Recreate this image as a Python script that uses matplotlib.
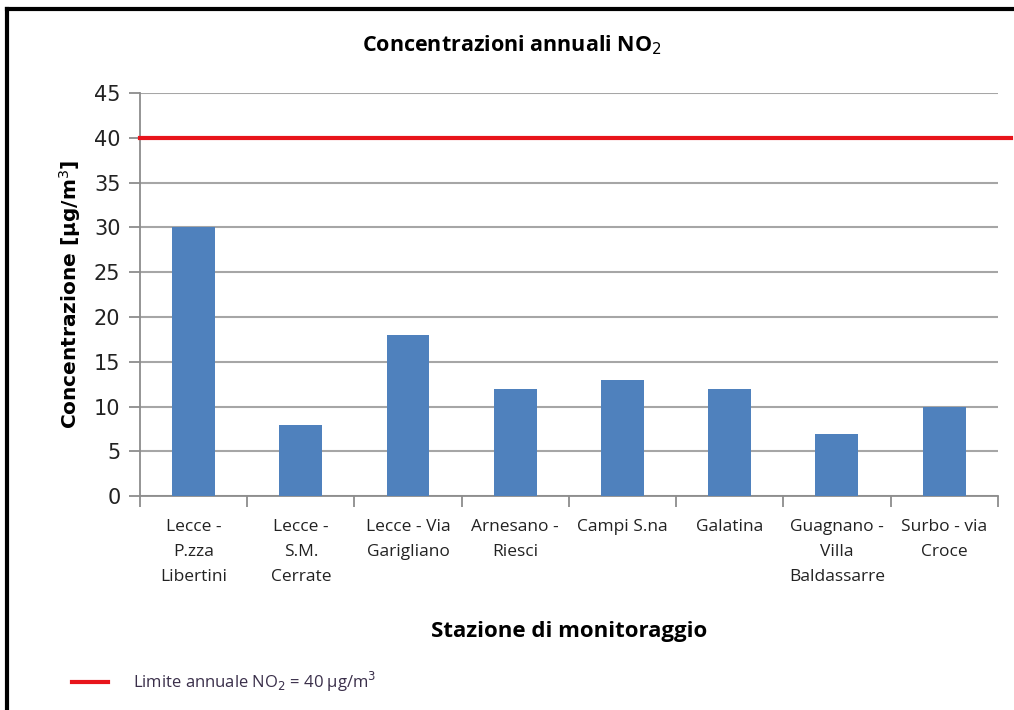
import matplotlib.pyplot as plt
import numpy as np

# NO2 annual means per monitoring station
stations = ["Lecce -\nP.zza\nLibertini", "Lecce -\nS.M.\nCerrate", "Lecce - Via\nGarigliano",
            "Arnesano -\nRiesci", "Campi S.na", "Galatina", "Guagnano -\nVilla\nBaldassarre",
            "Surbo - via\nCroce"]
no2 = [30, 8, 18, 12, 13, 12, 7, 10]
limit = 40
yticks = [0, 5, 10, 15, 20, 25, 30, 35, 40, 45]

plt.rcParams['font.family'] = ['Liberation Sans Narrow', 'Open Sans', 'DejaVu Sans']

fig = plt.figure(figsize=(10.14, 7.10), dpi=100)
ax = fig.add_axes([0.138, 0.301, 0.846, 0.568])

x = np.arange(len(stations))
ax.bar(x, no2, 0.4, color="#4F81BD", zorder=3)
ax.axhline(limit, xmin=0, xmax=1.015, color="#E8141B", lw=3, zorder=4, clip_on=False)

ax.set_xlim(-0.5, len(stations) - 0.5)
ax.set_ylim(0, 45)
ax.set_yticks(yticks)
ax.set_yticklabels([str(v) for v in yticks], family="DejaVu Sans", fontsize=15, color="#222222")
ax.yaxis.grid(True, color="#A6A6A6", lw=1.5, zorder=0)

ax.set_xticks(x)
ax.set_xticklabels(stations, fontsize=12.5, linespacing=1.75, color="#222222", va="top")
ax.set_xticks(np.arange(-0.5, len(stations)), minor=True)
ax.tick_params(axis="x", which="major", length=0, pad=16)
ax.tick_params(axis="x", which="minor", length=8, color="#8C8C8C", width=1.3)
ax.tick_params(axis="y", length=8, color="#8C8C8C", width=1.3, pad=6)

for s in ["top", "right"]:
    ax.spines[s].set_visible(False)
for s in ["left", "bottom"]:
    ax.spines[s].set_color("#8C8C8C")
    ax.spines[s].set_linewidth(1.3)

fig.text(0.505, 0.936, "Concentrazioni annuali NO$_2$", fontsize=15.5, fontweight="bold",
         ha="center", va="center")
ax.set_ylabel("Concentrazione [µg/m$^3$]", family="DejaVu Sans", fontsize=14.5,
              fontweight="bold", labelpad=8)
ax.set_xlabel("Stazione di monitoraggio", fontsize=16, fontweight="bold", labelpad=26)

# legend for the limit line
fig.add_artist(plt.Line2D([0.071, 0.107], [0.04, 0.04], color="#E8141B", lw=3))
fig.text(0.131, 0.04, "Limite annuale NO$_2$ = 40 µg/m$^3$", fontsize=12, va="center",
         color="#3A2F4A")

# outer frame
fig.add_artist(plt.Line2D([0.007, 0.007], [0.0, 0.987], color="black", lw=3))
fig.add_artist(plt.Line2D([0.007, 1.0], [0.987, 0.987], color="black", lw=3))

plt.savefig("out.png")
plt.close()
